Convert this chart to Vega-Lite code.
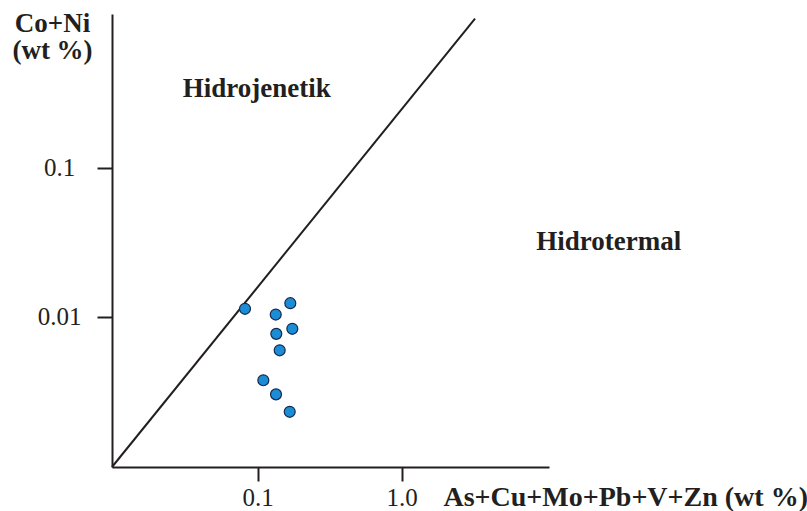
{
  "$schema": "https://vega.github.io/schema/vega-lite/v6.json",
  "width": 437,
  "height": 453,
  "autosize": "none",
  "padding": {"left": 112, "top": 14, "right": 258, "bottom": 44},
  "background": "white",
  "config": {
    "view": {"stroke": null},
    "font": "Liberation Serif",
    "axis": {"grid": false}
  },
  "datasets": {
    "samples": [
      {"x": 0.0816, "y": 0.01127},
      {"x": 0.1334, "y": 0.01031},
      {"x": 0.1684, "y": 0.01229},
      {"x": 0.1346, "y": 0.00765},
      {"x": 0.1739, "y": 0.00827},
      {"x": 0.1421, "y": 0.00593},
      {"x": 0.1094, "y": 0.00373},
      {"x": 0.1340, "y": 0.00300},
      {"x": 0.1668, "y": 0.00229}
    ],
    "boundary": [
      {"x": 0.00973, "y": 0.000975},
      {"x": 3.23, "y": 1.005}
    ],
    "regions": [
      {"label": "Hidrojenetik", "x": 0.0984, "y": 0.2985},
      {"label": "Hidrotermal", "x": 27.4, "y": 0.0278}
    ]
  },
  "layer": [
    {
      "data": {"name": "boundary"},
      "mark": {"type": "line", "color": "#231f20", "strokeWidth": 2, "clip": false},
      "encoding": {
        "x": {
          "field": "x", "type": "quantitative",
          "scale": {"type": "log", "domain": [0.00973, 10.54], "nice": false},
          "axis": {
            "values": [0.1, 1],
            "format": ".1f",
            "domainColor": "#231f20", "domainWidth": 2,
            "tickColor": "#231f20", "tickWidth": 2, "tickSize": 14,
            "labelFont": "Liberation Serif", "labelFontSize": 25, "labelColor": "#231f20",
            "labelBaseline": "alphabetic", "labelPadding": 24,
            "title": "As+Cu+Mo+Pb+V+Zn (wt %)",
            "titleFont": "Liberation Serif", "titleFontSize": 28, "titleFontWeight": "bold",
            "titleColor": "#231f20", "titleAlign": "left", "titleBaseline": "alphabetic",
            "titleX": 331, "titleY": 38.3
          }
        },
        "y": {
          "field": "y", "type": "quantitative",
          "scale": {"type": "log", "domain": [0.000975, 1.078], "nice": false},
          "axis": {
            "values": [0.01, 0.1],
            "format": ".2~f",
            "domainColor": "#231f20", "domainWidth": 2,
            "tickColor": "#231f20", "tickWidth": 2, "tickSize": 15,
            "labelFont": "Liberation Serif", "labelFontSize": 25, "labelColor": "#231f20",
            "labelAlign": "center", "labelBaseline": "middle", "labelPadding": 38,
            "title": ["Co+Ni", "(wt %)"],
            "titleFont": "Liberation Serif", "titleFontSize": 27, "titleFontWeight": "bold",
            "titleColor": "#231f20", "titleAngle": 0, "titleAlign": "center",
            "titleBaseline": "top", "titleLineHeight": 27,
            "titleX": -60, "titleY": -3.3
          }
        }
      }
    },
    {
      "data": {"name": "samples"},
      "mark": {"type": "point", "shape": "circle", "filled": true, "size": 120,
               "fill": "#1b8dd6", "stroke": "#15294f", "strokeWidth": 1.2, "opacity": 1},
      "encoding": {
        "x": {"field": "x", "type": "quantitative"},
        "y": {"field": "y", "type": "quantitative"}
      }
    },
    {
      "data": {"name": "regions"},
      "mark": {"type": "text", "font": "Liberation Serif", "fontSize": 27, "fontWeight": "bold",
               "color": "#231f20", "align": "center", "baseline": "alphabetic", "clip": false},
      "encoding": {
        "x": {"field": "x", "type": "quantitative"},
        "y": {"field": "y", "type": "quantitative"},
        "text": {"field": "label"}
      }
    }
  ]
}
